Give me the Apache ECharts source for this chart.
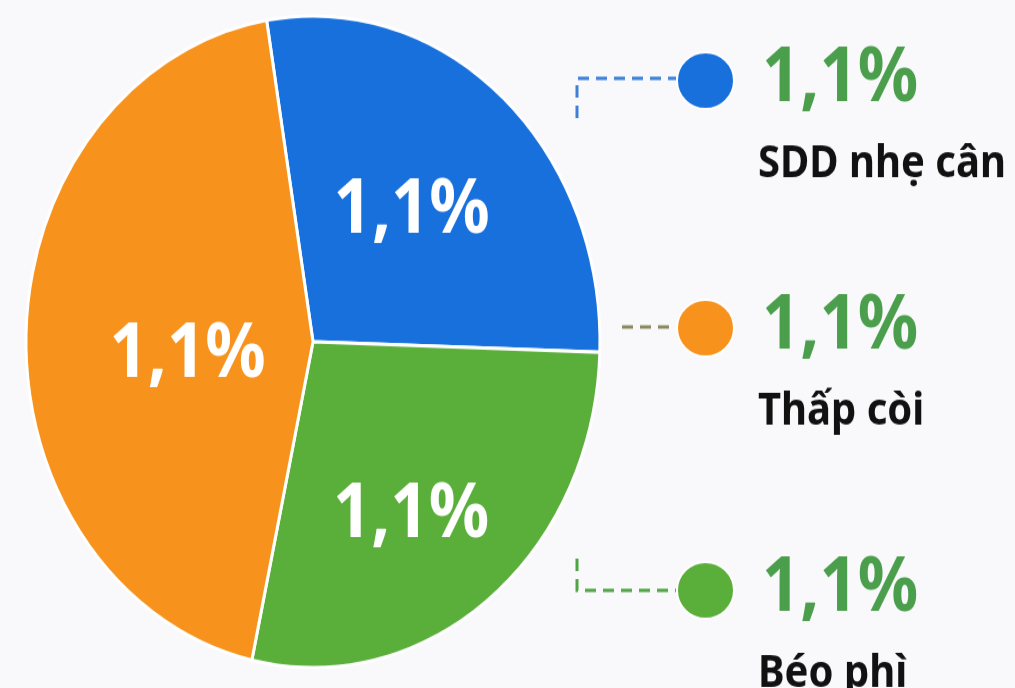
<!DOCTYPE html>
<html>
<head>
<meta charset="utf-8">
<script src="https://cdn.jsdelivr.net/npm/echarts@6/dist/echarts.min.js"></script>
<style>
  html, body { margin: 0; padding: 0; background: #f9f9fb; width: 1015px; height: 688px; overflow: hidden; }
  #wrap { width: 1015px; height: 688px; overflow: hidden; }
  /* the source picture is a pie squeezed into an ellipse, so the whole chart is stretched vertically */
  #main { width: 1015px; height: 606px; transform: scaleY(1.13531); transform-origin: 0 0; }
</style>
</head>
<body>
<div id="wrap"><div id="main"></div></div>
<script>
// slices, clockwise from the top
const categories = ['SDD nhẹ cân', 'Béo phì', 'Thấp còi']
const sliceValues = [28.1, 27.9, 44.0]
const percentLabels = ['1,1%', '1,1%', '1,1%']
const sliceColors = ['#1870dd', '#5aae3a', '#f7921c']
// right-hand key, top to bottom
const keyOrder = ['SDD nhẹ cân', 'Thấp còi', 'Béo phì']

const FONT = '"Noto Sans", "Open Sans", sans-serif'
const keyTops = [-9, 209, 440]
const labelShift = [[2, -5], [8, 37], [21, 16]]

const chart = echarts.init(document.getElementById('main'))

const pieData = categories.map((name, i) => ({
  name,
  value: sliceValues[i],
  itemStyle: { color: sliceColors[i] },
  label: { offset: labelShift[i] }
}))

const legends = keyOrder.map((name, k) => ({
  data: [name],
  orient: 'vertical',
  left: 676,
  top: keyTops[k],
  padding: 0,
  icon: 'path://M0,25a25,25 0 1,0 50,0a25,25 0 1,0 -50,0z',
  symbolKeepAspect: false,
  itemWidth: 57,
  itemHeight: 50,
  selectedMode: false,
  formatter: n => '{p| }\n{v|' + percentLabels[categories.indexOf(n)] + '}\n{n|' + n + '}',
  textStyle: {
    rich: {
      p: { fontSize: 10, lineHeight: 74 },
      v: { fontFamily: FONT, fontWeight: 'bold', fontSize: 67, lineHeight: 74, color: '#4a9e4c', padding: [0, 0, 0, 23] },
      n: { fontFamily: FONT, fontWeight: 'bold', fontSize: 40, lineHeight: 76, color: '#111111', padding: [0, 0, 0, 19] }
    }
  }
}))

function dashed(points, color, dash) {
  return {
    type: 'polyline',
    silent: true,
    shape: { points },
    style: { stroke: color, lineWidth: 3, lineDash: dash, fill: null }
  }
}

chart.setOption({
  backgroundColor: '#f9f9fb',
  animation: false,
  legend: legends,
  graphic: [
    dashed([[577, 104], [577, 69], [676, 69]], '#3f80d6', [11, 7]),
    dashed([[622, 288], [676, 288]], '#8c8a62', [11, 7]),
    dashed([[577, 492], [577, 520], [676, 520]], '#4fa444', [11, 7])
  ],
  series: [{
    type: 'pie',
    center: [313, 301],
    radius: 287,
    startAngle: 99.3,
    clockwise: true,
    silent: true,
    itemStyle: { borderColor: '#ffffff', borderWidth: 3 },
    label: {
      show: true,
      position: 'inside',
      formatter: p => percentLabels[p.dataIndex],
      fontFamily: FONT,
      fontWeight: 'bold',
      fontSize: 67,
      color: '#ffffff'
    },
    labelLine: { show: false },
    emphasis: { disabled: true },
    data: pieData
  }]
})
</script>
</body>
</html>
